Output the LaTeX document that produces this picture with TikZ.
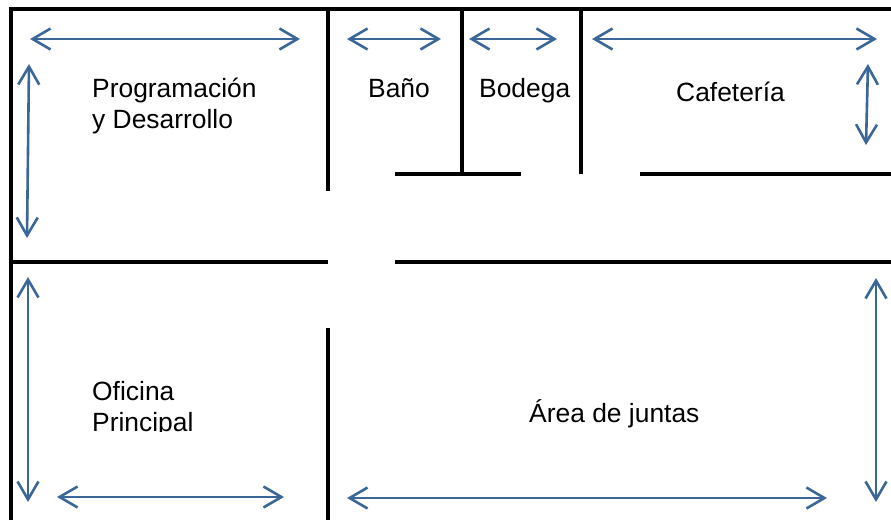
\documentclass[tikz,border=0pt]{standalone}
\usepackage{fontspec}
\usepackage{xcolor}
\setmainfont{Liberation Sans}
\usetikzlibrary{arrows.meta}
\definecolor{spanblue}{HTML}{3A6698}
\tikzset{
  wall/.style={line width=4pt, black},
  span/.style={line width=2.6pt, spanblue, {Straight Barb[length=18pt,width=21pt]}-{Straight Barb[length=18pt,width=21pt]}},
  room/.style={inner sep=0pt, anchor=base west, align=left, font=\fontsize{26.4}{31}\selectfont}
}
\begin{document}
\begin{tikzpicture}[x=1pt, y=-1pt]
\useasboundingbox (0,0) rectangle (891,520);
% outer walls
\draw[wall] (10.5,520) -- (10.5,8.5) -- (891,8.5);
% inner walls
\draw[wall] (328,9) -- (328,191);
\draw[wall] (328,328) -- (328,520);
\draw[wall] (462,9) -- (462,174);
\draw[wall] (581,9) -- (581,174);
\draw[wall] (395,173.5) -- (521,173.5);
\draw[wall] (640,173.5) -- (891,173.5);
\draw[wall] (10,262) -- (328,262);
\draw[wall] (395,262) -- (891,262);
% sizes of the rooms
\draw[span] (30,39) -- (300,39);
\draw[span] (29,64) -- (27,238);
\draw[span] (28,277) -- (28,502);
\draw[span] (57,497) -- (284,497);
\draw[span] (347,39) -- (441,39);
\draw[span] (469,39) -- (557,39);
\draw[span] (592,39) -- (877,39);
\draw[span] (868,64) -- (866,145);
\draw[span] (347,498) -- (827,498);
\draw[span] (876,278) -- (876,502);
% room names
\node[room] (programacion) at (92,128) {Programación\\y Desarrollo};
\node[room] (bano) at (368,97) {Baño};
\node[room] (bodega) at (479,97) {Bodega};
\node[room] (cafeteria) at (676,101) {Cafetería};
\node[room] (juntas) at (529,422) {Área de juntas};
\begin{scope}
  \clip (80,370) rectangle (300,431.5);
  \node[room] (oficina) at (92,431) {Oficina\\Principal};
\end{scope}
\end{tikzpicture}
\end{document}
